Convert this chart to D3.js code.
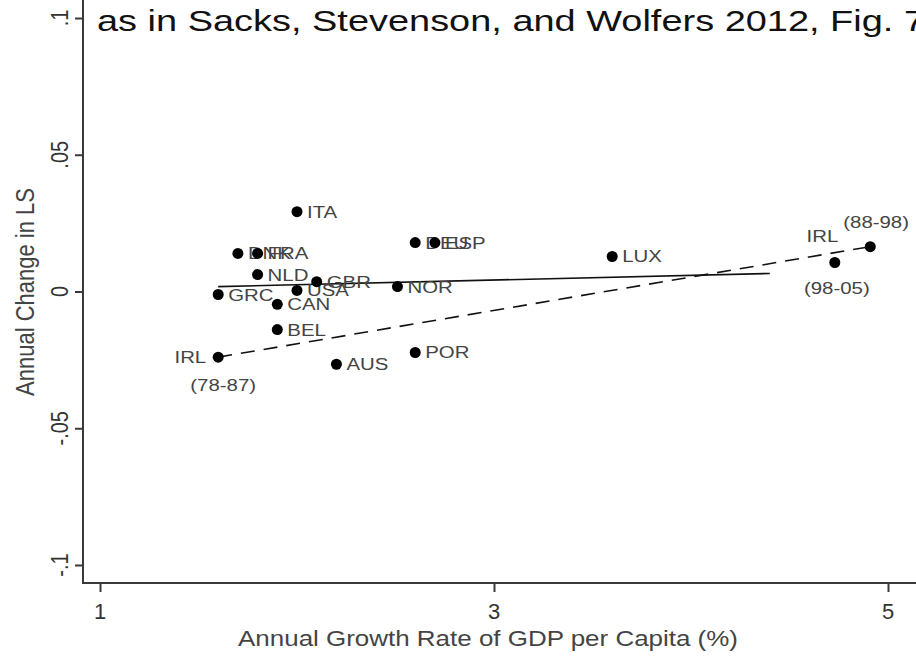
<!DOCTYPE html>
<html>
<head>
<meta charset="utf-8">
<script src="https://cdn.jsdelivr.net/npm/d3@7"></script>
<style>
  html, body { margin: 0; padding: 0; background: #fff; }
  svg { display: block; }
  text { font-family: "Liberation Sans", Arial, sans-serif; }
</style>
</head>
<body>
<svg id="chart" width="916" height="658"></svg>
<script>
// ---- data ----
const countries = ["ITA", "DNK", "FRA", "NLD", "GRC", "USA", "GBR", "CAN", "BEL", "NOR", "DEU", "ESP", "LUX", "AUS", "POR", "IRL", "IRL", "IRL"];
const gdpGrowth = [2.00, 1.70, 1.80, 1.80, 1.60, 2.00, 2.10, 1.90, 1.90, 2.51, 2.60, 2.70, 3.60, 2.20, 2.60, 1.60, 4.91, 4.73];
const lsChange  = [0.0292, 0.0139, 0.0139, 0.0062, -0.0011, 0.0004, 0.0036, -0.0047, -0.0139, 0.0018, 0.0179, 0.0179, 0.0128, -0.0266, -0.0223, -0.0240, 0.0164, 0.0106];
const periodLabels = ["", "", "", "", "", "", "", "", "", "", "", "", "", "", "", "(78-87)", "(88-98)", "(98-05)"];
const xTicks = [1, 3, 5];
const yTicks = [-0.1, -0.05, 0, 0.05, 0.1];
const yTickLabels = ["-.1", "-.05", "0", ".05", ".1"];
const solidFitX = [1.60, 4.40];
const solidFitY = [0.0018, 0.0066];
const dashedFitX = [1.60, 4.91];
const dashedFitY = [-0.0240, 0.0164];
const titleText = "as in Sacks, Stevenson, and Wolfers 2012, Fig. 7";
const xTitle = "Annual Growth Rate of GDP per Capita (%)";
const yTitle = "Annual Change in LS";

// ---- layout ----
const svg = d3.select("#chart");
const W = 916, H = 658;
const x = d3.scaleLinear().domain([1, 5]).range([100, 888]);
const y = d3.scaleLinear().domain([-0.1, 0.1]).range([565, 18]);
const axisX0 = 83, axisY0 = 583;
const SX = 1.2; // horizontal stretch of the reference's lettering
const axisColor = "#3a3a3a";
const labelColor = "#444";

function stretchedText(g, px, py, str, opts = {}) {
  const t = g.append("text")
    .attr("transform", `translate(${px},${py}) scale(${opts.sx || SX},1)` + (opts.rotate ? ` rotate(${opts.rotate})` : ""))
    .attr("text-anchor", opts.anchor || "start")
    .attr("font-size", opts.size || 17)
    .attr("fill", opts.fill || labelColor)
    .text(str);
  return t;
}

// axes lines
svg.append("line").attr("x1", axisX0).attr("x2", axisX0).attr("y1", 0).attr("y2", axisY0)
  .attr("stroke", axisColor).attr("stroke-width", 2);
svg.append("line").attr("x1", axisX0 - 1).attr("x2", W).attr("y1", axisY0).attr("y2", axisY0)
  .attr("stroke", axisColor).attr("stroke-width", 2);

// y axis via d3
const yAxis = d3.axisLeft(y).tickValues(yTicks).tickSize(8).tickFormat("");
const gy = svg.append("g").attr("transform", `translate(${axisX0},0)`).call(yAxis);
gy.select(".domain").remove();
gy.selectAll(".tick line").attr("stroke", axisColor).attr("stroke-width", 2);
yTicks.forEach((v, i) => {
  stretchedText(svg, 68, y(v), yTickLabels[i], { rotate: -90, anchor: "middle", size: 20, fill: "#333", sx: 1.15 });
});

// x axis via d3
const xAxis = d3.axisBottom(x).tickValues(xTicks).tickSize(9).tickFormat("");
const gx = svg.append("g").attr("transform", `translate(0,${axisY0})`).call(xAxis);
gx.select(".domain").remove();
gx.selectAll(".tick line").attr("stroke", axisColor).attr("stroke-width", 2);
xTicks.forEach(v => {
  stretchedText(svg, x(v), 619, String(v), { anchor: "middle", size: 22, fill: "#333", sx: 1.0 });
});

// axis titles
stretchedText(svg, 488, 646, xTitle, { anchor: "middle", size: 22, fill: "#444", sx: 1.18 });
stretchedText(svg, 34, 292, yTitle, { anchor: "middle", size: 22, fill: "#444", rotate: -90, sx: 1.15 });

// title
svg.append("text")
  .attr("x", 97).attr("y", 31)
  .attr("font-size", 29)
  .attr("fill", "#111")
  .attr("textLength", 828)
  .attr("lengthAdjust", "spacingAndGlyphs")
  .text(titleText);

// fit lines
const line = d3.line().x(d => x(d[0])).y(d => y(d[1]));
svg.append("path").datum(d3.zip(solidFitX, solidFitY)).attr("d", line)
  .attr("fill", "none").attr("stroke", "#111").attr("stroke-width", 1.6);
svg.append("path").datum(d3.zip(dashedFitX, dashedFitY)).attr("d", line)
  .attr("fill", "none").attr("stroke", "#111").attr("stroke-width", 1.6)
  .attr("stroke-dasharray", "14,9");

// points and labels (drawn per observation, so later labels overlay earlier marks)
const pts = countries.map((c, i) => ({ c, gx: gdpGrowth[i], ly: lsChange[i], p: periodLabels[i] }));
const lg = svg.append("g");
pts.forEach(d => {
  const px = x(d.gx), py = y(d.ly);
  lg.append("circle").attr("cx", px).attr("cy", py).attr("r", 5.5).attr("fill", "#000");
  if (d.c === "IRL") {
    if (d.p === "(78-87)") {
      stretchedText(lg, px - 12, py + 6, "IRL", { anchor: "end" });
      stretchedText(lg, px + 5, py + 34, d.p, { anchor: "middle" });
    } else if (d.p === "(88-98)") {
      stretchedText(lg, px - 32, py - 5, "IRL", { anchor: "end" });
      stretchedText(lg, px - 27, py - 19, d.p, { anchor: "start" });
    } else {
      stretchedText(lg, px + 2, py + 31, d.p, { anchor: "middle" });
    }
  } else {
    stretchedText(lg, px + 10, py + 6, d.c, { anchor: "start" });
  }
});
</script>
</body>
</html>
